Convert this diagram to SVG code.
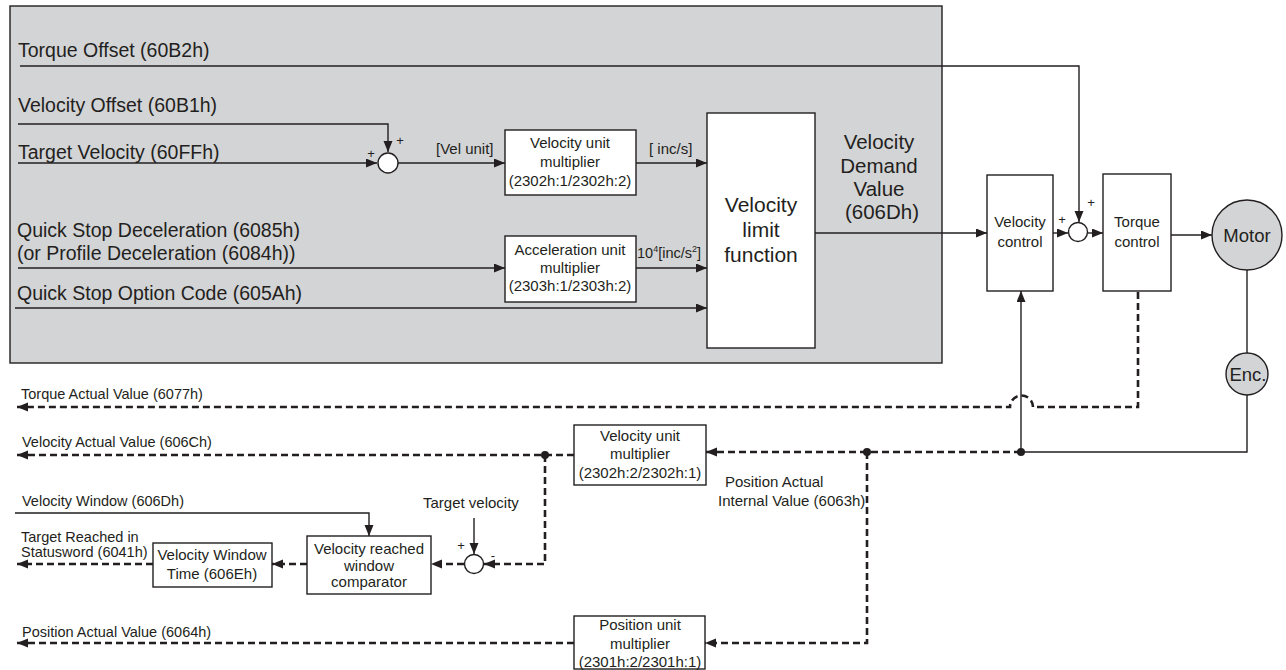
<svg xmlns="http://www.w3.org/2000/svg" width="1286" height="670" viewBox="0 0 1286 670">
<defs>
<marker id="ar" markerUnits="userSpaceOnUse" markerWidth="12" markerHeight="10" refX="11" refY="4.5" orient="auto"><path d="M0,0 L11,4.5 L0,9 z" fill="#231f20"/></marker>
<style>
text{font-family:"Liberation Sans",Arial,sans-serif;fill:#231f20}
.big{font-size:19.5px}
.sm{font-size:14.5px}
.bx{font-size:15px}
.mid{text-anchor:middle}
.ln{fill:none;stroke:#231f20;stroke-width:1.4}
.dl{fill:none;stroke:#231f20;stroke-width:2.6;stroke-dasharray:7 4}
.box{fill:#fff;stroke:#231f20;stroke-width:1.4}
.sum{fill:#fff;stroke:#231f20;stroke-width:1.4}
.gr{fill:#d3d4d6;stroke:#231f20;stroke-width:1.4}
</style>
</defs>
<rect id="panel" x="10" y="6" width="932" height="357" class="gr"/>

<g id="inputs">
<text class="big" x="18" y="57">Torque Offset (60B2h)</text>
<text class="big" x="18" y="112">Velocity Offset (60B1h)</text>
<text class="big" x="18" y="159">Target Velocity (60FFh)</text>
<text class="big" x="17" y="237">Quick Stop Deceleration (6085h)</text>
<text class="big" x="17" y="260">(or Profile Deceleration (6084h))</text>
<text class="big" x="17" y="300">Quick Stop Option Code (605Ah)</text>
</g>

<g id="sum1">
<circle cx="388" cy="163" r="10" class="sum"/>
<text x="371" y="158" font-size="13" class="mid">+</text>
<text x="400" y="145" font-size="13" class="mid">+</text>
</g>

<g id="vum1">
<rect x="505" y="130" width="131" height="65" class="box"/>
<text class="bx mid" x="570" y="148">Velocity unit</text>
<text class="bx mid" x="570" y="167">multiplier</text>
<text class="bx mid" x="570" y="186">(2302h:1/2302h:2)</text>
</g>

<g id="aum">
<rect x="505" y="236" width="131" height="66" class="box"/>
<text class="bx mid" x="570" y="255">Acceleration unit</text>
<text class="bx mid" x="570" y="273">multiplier</text>
<text class="bx mid" x="570" y="291">(2303h:1/2303h:2)</text>
</g>

<g id="vlf">
<rect x="707" y="113" width="108" height="235" class="box"/>
<text x="761" y="212" font-size="21" class="mid">Velocity</text>
<text x="761" y="237" font-size="21" class="mid">limit</text>
<text x="761" y="262" font-size="21" class="mid">function</text>
</g>

<g id="vdv">
<text x="879" y="149" font-size="20.5" class="mid">Velocity</text>
<text x="879" y="173" font-size="20.5" class="mid">Demand</text>
<text x="879" y="196" font-size="20.5" class="mid">Value</text>
<text x="882" y="219" font-size="20.5" class="mid">(606Dh)</text>
</g>

<g id="vctl">
<rect x="987" y="175" width="66" height="116" class="box"/>
<text class="bx mid" x="1020" y="227">Velocity</text>
<text class="bx mid" x="1020" y="247">control</text>
</g>

<g id="sum2">
<circle cx="1078" cy="232" r="9.5" class="sum"/>
<text x="1062" y="224" font-size="13" class="mid">+</text>
<text x="1091" y="207" font-size="13" class="mid">+</text>
</g>

<g id="tctl">
<rect x="1103" y="174" width="68" height="117" class="box"/>
<text class="bx mid" x="1137" y="227">Torque</text>
<text class="bx mid" x="1137" y="247">control</text>
</g>

<g id="motor">
<circle cx="1247" cy="235" r="35" class="gr"/>
<text x="1247" y="242" font-size="18.5" class="mid">Motor</text>
</g>

<g id="enc">
<circle cx="1247" cy="374" r="21" class="gr"/>
<text x="1248" y="381" font-size="18.5" class="mid">Enc.</text>
</g>

<g id="fb-labels">
<text class="sm" x="21" y="399">Torque Actual Value (6077h)</text>
<text class="sm" x="22" y="447">Velocity Actual Value (606Ch)</text>
<text class="sm" x="22" y="506">Velocity Window (606Dh)</text>
<text class="sm" x="21" y="542">Target Reached in</text>
<text class="sm" x="21" y="557">Statusword (6041h)</text>
<text class="sm" x="22" y="637">Position Actual Value (6064h)</text>
<text class="bx" x="423" y="508">Target velocity</text>
<text class="bx" x="725" y="487">Position Actual</text>
<text class="bx" x="718" y="506">Internal Value (6063h)</text>
</g>

<g id="vum2">
<rect x="574" y="425" width="132" height="60" class="box"/>
<text class="bx mid" x="640" y="441">Velocity unit</text>
<text class="bx mid" x="640" y="459">multiplier</text>
<text class="bx mid" x="640" y="478">(2302h:2/2302h:1)</text>
</g>

<g id="pum">
<rect x="574" y="616" width="131" height="53" class="box"/>
<text class="bx mid" x="640" y="630">Position unit</text>
<text class="bx mid" x="640" y="649">multiplier</text>
<text class="bx mid" x="640" y="667">(2301h:2/2301h:1)</text>
</g>

<g id="sum3">
<circle cx="474" cy="564" r="9.5" class="sum"/>
<text x="461" y="550" font-size="13" class="mid">+</text>
<text x="493" y="560" font-size="13" class="mid">-</text>
</g>

<g id="cmp">
<rect x="307" y="536" width="124" height="58" class="box"/>
<text class="bx mid" x="369" y="554">Velocity reached</text>
<text class="bx mid" x="369" y="571">window</text>
<text class="bx mid" x="369" y="587">comparator</text>
</g>

<g id="vwt">
<rect x="153" y="543" width="119" height="44" class="box"/>
<text class="bx mid" x="212" y="560">Velocity Window</text>
<text class="bx mid" x="212" y="579">Time (606Eh)</text>
</g>

<g id="connectors">
<polyline class="ln" points="20,66 1079,66 1079,222" marker-end="url(#ar)"/>
<polyline class="ln" points="18,124 388,124 388,152" marker-end="url(#ar)"/>
<line class="ln" x1="18" y1="163" x2="377" y2="163" marker-end="url(#ar)"/>
<line class="ln" x1="398" y1="163" x2="505" y2="163" marker-end="url(#ar)"/>
<line class="ln" x1="636" y1="163" x2="707" y2="163" marker-end="url(#ar)"/>
<line class="ln" x1="18" y1="268" x2="505" y2="268" marker-end="url(#ar)"/>
<line class="ln" x1="636" y1="268" x2="707" y2="268" marker-end="url(#ar)"/>
<line class="ln" x1="15" y1="308" x2="707" y2="308" marker-end="url(#ar)"/>
<line class="ln" x1="815" y1="233" x2="987" y2="233" marker-end="url(#ar)"/>
<line class="ln" x1="1053" y1="233" x2="1068" y2="233" marker-end="url(#ar)"/>
<line class="ln" x1="1088" y1="233" x2="1103" y2="233" marker-end="url(#ar)"/>
<line class="ln" x1="1171" y1="235" x2="1212" y2="235" marker-end="url(#ar)"/>
<line class="ln" x1="1247" y1="270" x2="1247" y2="353"/>
<polyline class="ln" points="1247,395 1247,452 1021,452"/>
<line class="ln" x1="1021" y1="452" x2="1021" y2="291" marker-end="url(#ar)"/>
<path class="dl" d="M1138,292 V407 H1033 A11.5,11.5 0 0 0 1010,407 H17" marker-end="url(#ar)"/>
<line class="dl" x1="1021" y1="452" x2="706" y2="452" marker-end="url(#ar)"/>
<polyline class="dl" points="574,455 545,455 17,455" marker-end="url(#ar)"/>
<polyline class="dl" points="545,455 545,564 484,564" marker-end="url(#ar)"/>
<line class="dl" x1="464" y1="564" x2="431" y2="564" marker-end="url(#ar)"/>
<line class="dl" x1="307" y1="564" x2="272" y2="564" marker-end="url(#ar)"/>
<line class="dl" x1="153" y1="564" x2="17" y2="564" marker-end="url(#ar)"/>
<polyline class="ln" points="15,513 369,513 369,536" marker-end="url(#ar)"/>
<line class="ln" x1="474" y1="518" x2="474" y2="554" marker-end="url(#ar)"/>
<polyline class="dl" points="867,452 867,643 705,643" marker-end="url(#ar)"/>
<line class="dl" x1="574" y1="643" x2="17" y2="643" marker-end="url(#ar)"/>
<circle cx="545" cy="455" r="4" fill="#231f20"/>
<circle cx="867" cy="452" r="4" fill="#231f20"/>
<circle cx="1021" cy="452" r="4" fill="#231f20"/>
</g>

<g id="units">
<text class="bx" x="436" y="154">[Vel unit]</text>
<text class="bx" x="649" y="154">[ inc/s]</text>
<text x="637" y="258" font-size="14.5">10<tspan font-size="9" dy="-6">4</tspan><tspan dy="6">[inc/s</tspan><tspan font-size="9" dy="-6">2</tspan><tspan dy="6">]</tspan></text>
</g>
</svg>
